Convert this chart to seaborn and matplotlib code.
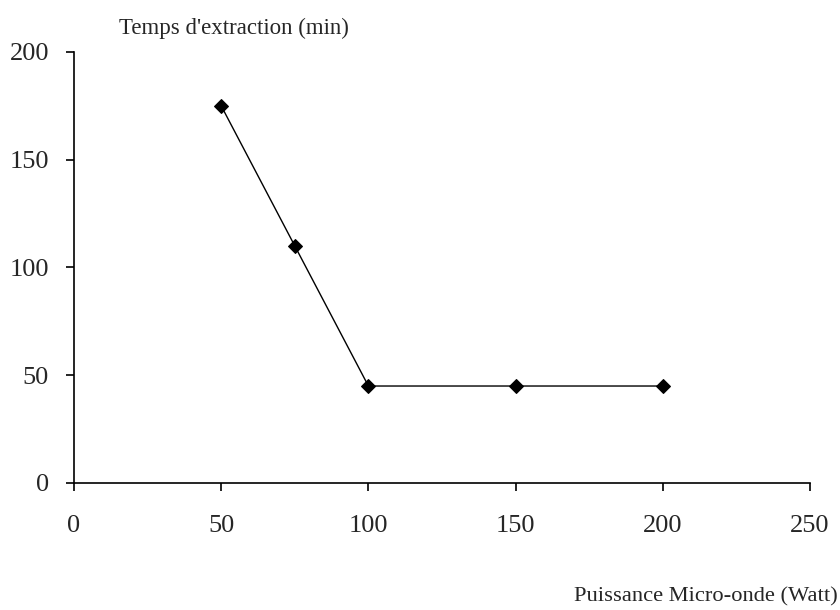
import pandas as pd
import matplotlib
matplotlib.use("Agg")
import matplotlib.pyplot as plt
import seaborn as sns

# Data
puissance = [50, 75, 100, 150, 200]
temps = [175, 110, 45, 45, 45]
x_ticks = [0, 50, 100, 150, 200, 250]
y_ticks = [0, 50, 100, 150, 200]

data = pd.DataFrame({"Puissance": puissance, "Temps": temps})

sns.set_style("ticks")
plt.rcParams["font.family"] = ["Liberation Serif", "DejaVu Serif"]

fig = plt.figure(figsize=(8.4, 6.1), dpi=100)
ax = fig.add_axes([0.0881, 0.2082, 0.8762, 0.7066])

sns.lineplot(data=data, x="Puissance", y="Temps", ax=ax, color="black",
             linewidth=1, marker="D", markersize=7, markeredgecolor="black")

ax.set_xlim(0, 250)
ax.set_ylim(0, 200)
ax.set_xticks(x_ticks)
ax.set_yticks(y_ticks)
ax.tick_params(labelsize=19, length=6, width=1.2, color="black")
ax.tick_params(axis="x", pad=17)
ax.tick_params(axis="y", pad=12)
for s in ["top", "right"]:
    ax.spines[s].set_visible(False)
for s in ["left", "bottom"]:
    ax.spines[s].set_linewidth(1.2)
    ax.spines[s].set_color("black")

ax.set_xlabel("")
ax.set_ylabel("")
fig.text(0.278, 0.953, "Temps d'extraction (min)", ha="center", va="center", fontsize=16.5)
fig.text(0.997, 0.021, "Puissance Micro-onde (Watt)", ha="right", va="center", fontsize=16.2)

fig.savefig("out.png", dpi=100)
